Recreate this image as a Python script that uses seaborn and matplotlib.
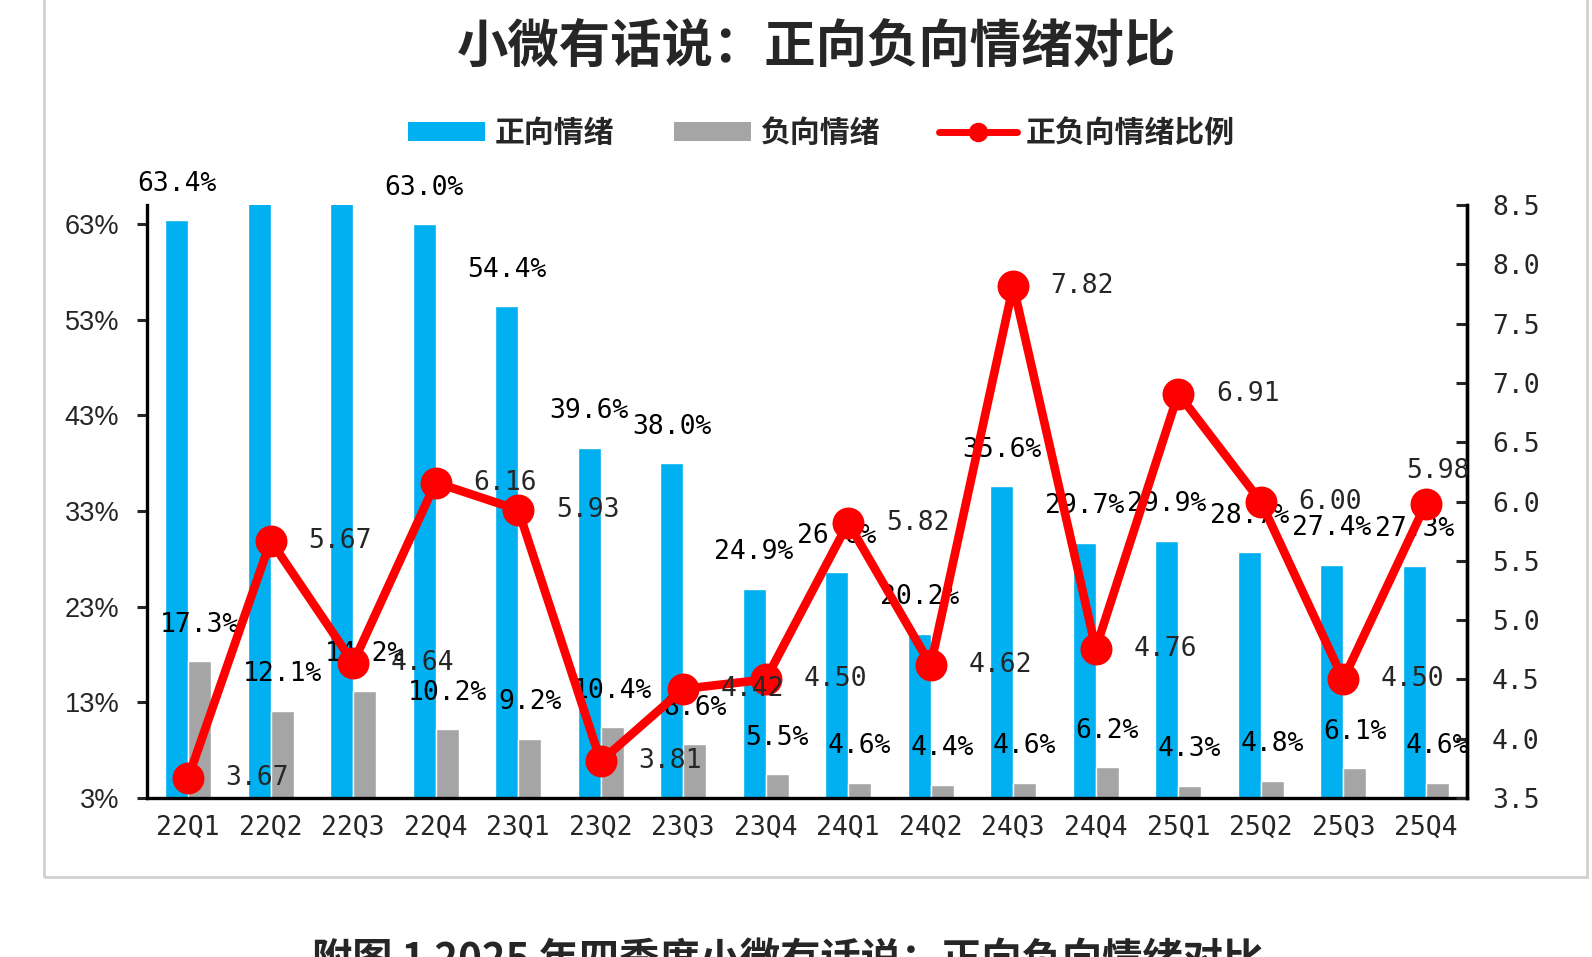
import numpy as np
import pandas as pd
import matplotlib
matplotlib.use("Agg")
import matplotlib.pyplot as plt
import seaborn as sns
from matplotlib.patches import Patch, Rectangle
from matplotlib.lines import Line2D

# 数据
quarters = ["22Q1", "22Q2", "22Q3", "22Q4", "23Q1", "23Q2", "23Q3", "23Q4",
            "24Q1", "24Q2", "24Q3", "24Q4", "25Q1", "25Q2", "25Q3", "25Q4"]
positive = [63.4, 68.6, 65.9, 63.0, 54.4, 39.6, 38.0, 24.9,
            26.6, 20.2, 35.6, 29.7, 29.9, 28.7, 27.4, 27.3]
negative = [17.3, 12.1, 14.2, 10.2, 9.2, 10.4, 8.6, 5.5,
            4.6, 4.4, 4.6, 6.2, 4.3, 4.8, 6.1, 4.6]
ratio = [3.67, 5.67, 4.64, 6.16, 5.93, 3.81, 4.42, 4.50,
         5.82, 4.62, 7.82, 4.76, 6.91, 6.00, 4.50, 5.98]

left_ticks = [3, 13, 23, 33, 43, 53, 63]
left_tick_labels = ["3%", "13%", "23%", "33%", "43%", "53%", "63%"]
right_ticks = [3.5, 4.0, 4.5, 5.0, 5.5, 6.0, 6.5, 7.0, 7.5, 8.0, 8.5]

series_names = ["正向情绪", "负向情绪", "正负向情绪比例"]
title = "小微有话说：正向负向情绪对比"
caption = "附图 1 2025 年四季度小微有话说：正向负向情绪对比"

BLUE = "#00B0F0"
GRAY = "#A5A5A5"
RED = "#FF0000"
MONO = ["DejaVu Sans Mono"]

sns.set_theme(style="white")
plt.rcParams["font.family"] = ["Noto Sans CJK SC", "DejaVu Sans"]

fig = plt.figure(figsize=(15.92, 9.57), dpi=100)
ax = fig.add_axes([0.0923, 0.1661, 0.8292, 0.6197])

bars_df = pd.DataFrame({
    "quarter": quarters * 2,
    "value": positive + negative,
    "kind": [series_names[0]] * len(quarters) + [series_names[1]] * len(quarters),
})
sns.barplot(data=bars_df, x="quarter", y="value", hue="kind", order=quarters,
            palette=[BLUE, GRAY], saturation=1, width=0.56, gap=0,
            legend=False, ax=ax)

ax.set_ylim(3, 65)
ax.set_xlim(-0.5, len(quarters) - 0.5)
ax.set_yticks(left_ticks)
ax.set_yticklabels(left_tick_labels)
ax.set_xlabel("")
ax.set_ylabel("")
ax.tick_params(axis="y", direction="out", length=7, width=2.2, pad=13,
               labelsize=19.5, left=True)
ax.tick_params(axis="x", length=0, pad=12)
for lab in ax.get_yticklabels():
    lab.set_family(["Liberation Sans"])
for lab in ax.get_xticklabels():
    lab.set_family(MONO)
    lab.set_fontsize(19)

for side in ["left", "bottom", "right"]:
    ax.spines[side].set_visible(True)
    ax.spines[side].set_color("black")
    ax.spines[side].set_linewidth(2.4)
ax.spines["top"].set_visible(False)

# 柱子标签
top = ax.get_ylim()[1]
for container, vals in zip(ax.containers, [positive, negative]):
    labels = [f"{v:.1f}%" if v <= top else "" for v in vals]
    ax.bar_label(container, labels=labels, padding=17, fontsize=19,
                 family=MONO, color="black")

# 比例折线
ax2 = ax.twinx()
ratio_df = pd.DataFrame({"quarter": quarters, "ratio": ratio})
sns.lineplot(x=ratio_df.index, y=ratio_df["ratio"], ax=ax2, color=RED,
             linewidth=6.2, marker="o", markersize=23, markeredgewidth=0,
             sort=False)
ax2.set_ylim(3.5, 8.5)
ax2.set_yticks(right_ticks)
ax2.set_yticklabels([f"{t:.1f}" for t in right_ticks])
ax2.set_ylabel("")
ax2.tick_params(axis="y", direction="in", length=8, width=2.2, pad=18,
                labelsize=19, right=True)
for lab in ax2.get_yticklabels():
    lab.set_family(MONO)
for side in ["left", "bottom", "top"]:
    ax2.spines[side].set_visible(False)
ax2.spines["right"].set_color("black")
ax2.spines["right"].set_linewidth(2.4)
ax.set_xlim(-0.5, len(quarters) - 0.5)

for i, r in enumerate(ratio):
    if i == len(ratio) - 1:
        ax2.annotate(f"{r:.2f}", (i, r), xytext=(9, 24), textcoords="offset points",
                     ha="center", va="center", fontsize=19, family=MONO)
    else:
        ax2.annotate(f"{r:.2f}", (i, r), xytext=(27, 0), textcoords="offset points",
                     ha="left", va="center", fontsize=19, family=MONO)

# 标题与图例
fig.text(0.513, 0.952, title, ha="center", va="center", fontsize=37,
         fontweight="bold")
handles = [
    Patch(facecolor=BLUE, edgecolor="none"),
    Patch(facecolor=GRAY, edgecolor="none"),
    Line2D([0], [0], color=RED, lw=5, marker="o", markersize=13),
]
leg = fig.legend(handles, series_names, loc="center", bbox_to_anchor=(0.516, 0.861),
                 ncol=3, frameon=False, handlelength=2.6, handleheight=0.6,
                 handletextpad=0.3, columnspacing=2.0,
                 prop={"family": ["Noto Sans CJK SC"], "weight": "bold", "size": 21.5})

# 外框与图注
fig.patches.append(Rectangle((0.0276, 0.0836), 0.9693, 0.95, transform=fig.transFigure,
                             fill=False, edgecolor="#D0D0D0", linewidth=2))
fig.text(0.495, 0.017, caption, ha="center", va="top", fontsize=29,
         fontweight="bold")

fig.savefig("out.png", dpi=100)
